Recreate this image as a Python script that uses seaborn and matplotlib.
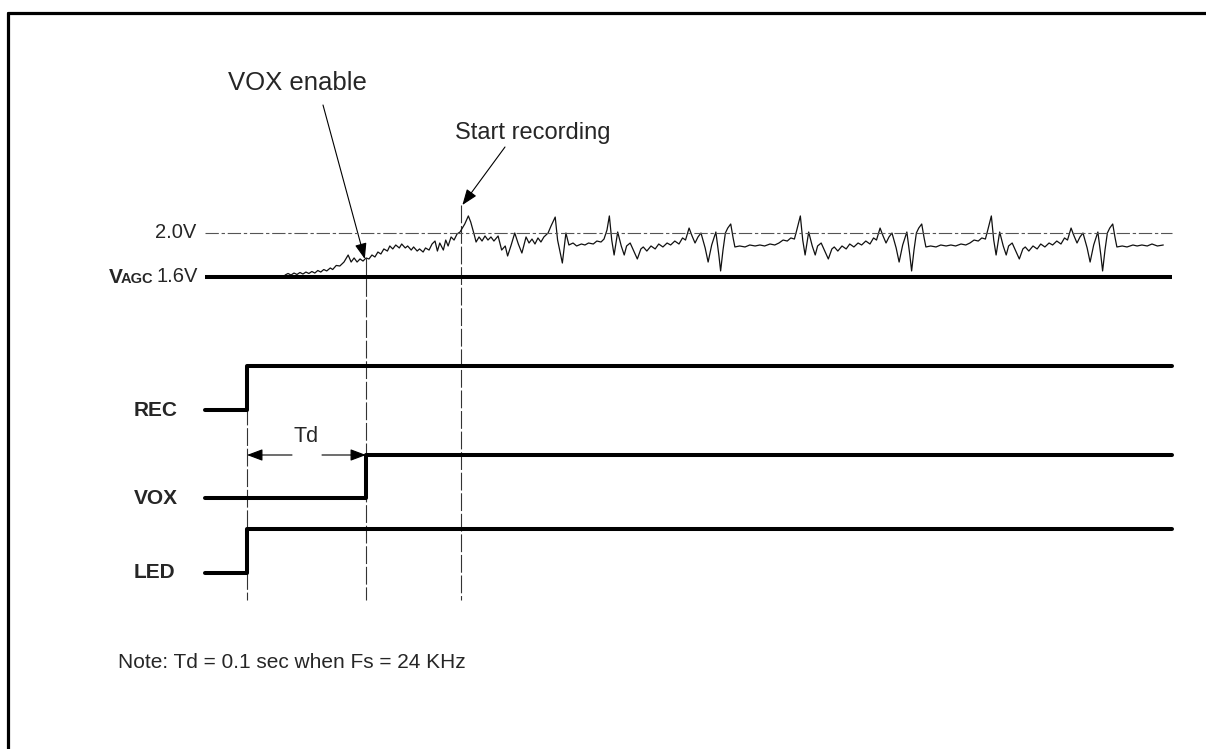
import matplotlib
matplotlib.use("Agg")
import matplotlib.pyplot as plt
from matplotlib.lines import Line2D
import seaborn as sns

# ---- timing data (ms) ----
t_begin, t_end = -35, 777
rec_t, rec_level = [t_begin, 0, t_end], [0, 1, 1]
vox_t, vox_level = [t_begin, 100, t_end], [0, 1, 1]
led_t, led_level = [t_begin, 0, t_end], [0, 1, 1]
td_ms = 100
vox_enable_ms = 100
start_rec_ms = 180

v_agc = 1.6
v_threshold = 2.0

# AGC output before recording (ramp up)
ramp_t = [32, 34.5, 37, 39.5, 42, 44.5, 47, 49.5, 52, 54.5,
          57, 59.5, 62, 64.5, 67, 70, 72, 75, 78, 81.5,
          85, 87.5, 90, 92.5, 95, 97.5, 100, 102.5, 105, 107.5,
          110, 112.5, 115, 118, 120, 122.5, 125, 128, 130, 133,
          135, 138, 140, 143, 145, 148, 150, 153, 155.5, 158,
          160, 162, 165, 167, 169, 171.5, 174, 176.5, 179, 180.5,
          183, 186]
ramp_v = [1.618, 1.632, 1.618, 1.636, 1.623, 1.641, 1.627, 1.645, 1.632, 1.65,
          1.636, 1.659, 1.645, 1.668, 1.655, 1.682, 1.668, 1.705, 1.7, 1.736,
          1.8, 1.736, 1.773, 1.736, 1.764, 1.745, 1.773, 1.764, 1.8, 1.782,
          1.827, 1.809, 1.855, 1.836, 1.882, 1.855, 1.891, 1.864, 1.9, 1.864,
          1.882, 1.845, 1.873, 1.836, 1.855, 1.827, 1.864, 1.845, 1.9, 1.927,
          1.836, 1.909, 1.845, 1.936, 1.882, 1.964, 1.936, 1.991, 2.009, 2.036,
          2.082, 2.155]

# AGC output while recording
rec1_t = [188, 191, 192.5, 195, 197.5, 200, 202.5, 205, 207.5, 211,
          214, 217, 219, 222, 225, 228, 231, 234.5, 237, 239.5,
          242, 244.5, 247, 249.5, 253, 255.5, 259, 261, 265, 268,
          270.5, 274, 277, 281, 284, 287, 291, 294, 297.5, 300,
          302.5, 304.5]
rec1_v = [2.1, 1.982, 1.918, 1.964, 1.927, 1.973, 1.936, 1.964, 1.927, 1.973,
          1.845, 1.882, 1.791, 1.891, 2.0, 1.9, 1.818, 1.964, 1.909, 1.945,
          1.9, 1.955, 1.918, 1.964, 2.0, 2.064, 2.145, 1.936, 1.727, 2.0,
          1.891, 1.909, 1.882, 1.9, 1.891, 1.909, 1.9, 1.927, 1.918, 1.945,
          2.027, 2.155]

rec2_t = [306.5, 308.5, 311.5, 314.5, 317, 319, 322, 325, 328, 331,
          333, 336, 339.5, 343, 346, 349.5, 353, 356, 359.5, 363,
          366, 368.5, 371.5, 374, 376.5, 379, 381.5, 385, 387.5, 390.5,
          394, 396.5, 398, 400, 402, 404, 406.5, 408.5, 410, 414,
          418.5, 422.5, 427, 431, 435, 439.5, 443.5, 447, 450.5, 454,
          457, 460, 462, 465]
rec2_v = [1.936, 1.8, 2.009, 1.882, 1.8, 1.882, 1.909, 1.836, 1.764, 1.855,
          1.873, 1.836, 1.882, 1.855, 1.9, 1.873, 1.909, 1.891, 1.927, 1.9,
          1.955, 1.936, 2.045, 1.973, 1.909, 1.964, 2.0, 1.864, 1.736, 1.891,
          2.009, 1.8, 1.655, 1.845, 2.0, 2.045, 2.082, 1.955, 1.873, 1.882,
          1.873, 1.891, 1.882, 1.891, 1.882, 1.9, 1.891, 1.909, 1.936, 1.927,
          1.955, 1.945, 2.027, 2.155]

rec3_t = [467, 469, 472, 475, 477.5, 479.5, 482.5, 485.5, 488.5, 491.5,
          493.5, 496.5, 500, 503.5, 506.5, 510, 513.5, 516.5, 520, 523.5,
          526.5, 529, 532, 534.5, 537, 539.5, 542, 545.5, 548, 551,
          554.5, 557, 558.5, 560.5, 562.5, 564.5, 567, 569, 570.5, 574.5,
          579, 583, 587.5, 591.5, 595.5, 600, 604, 607.5, 611, 614.5,
          617.5, 620.5, 622.5, 625.5]
rec3_v = [1.936, 1.8, 2.009, 1.882, 1.8, 1.882, 1.909, 1.836, 1.764, 1.855,
          1.873, 1.836, 1.882, 1.855, 1.9, 1.873, 1.909, 1.891, 1.927, 1.9,
          1.955, 1.936, 2.045, 1.973, 1.909, 1.964, 2.0, 1.864, 1.736, 1.891,
          2.009, 1.8, 1.655, 1.845, 2.0, 2.045, 2.082, 1.955, 1.873, 1.882,
          1.873, 1.891, 1.882, 1.891, 1.882, 1.9, 1.891, 1.909, 1.936, 1.927,
          1.955, 1.945, 2.027, 2.155]

rec4_t = [627.5, 629.5, 632.5, 635.5, 638, 640, 643, 646, 649, 652,
          654, 657, 660.5, 664, 667, 670.5, 674, 677, 680.5, 684,
          687, 689.5, 692.5, 695, 697.5, 700, 702.5, 706, 708.5, 711.5,
          715, 717.5, 719, 721, 723, 725, 727.5, 729.5, 731, 735.5,
          739.5, 744.5, 748, 752, 756.5, 760.5, 765, 770]
rec4_v = [1.936, 1.8, 2.009, 1.882, 1.8, 1.882, 1.909, 1.836, 1.764, 1.855,
          1.873, 1.836, 1.882, 1.855, 1.9, 1.873, 1.909, 1.891, 1.927, 1.9,
          1.955, 1.936, 2.045, 1.973, 1.909, 1.964, 2.0, 1.864, 1.736, 1.891,
          2.009, 1.8, 1.655, 1.845, 2.0, 2.045, 2.082, 1.955, 1.873, 1.882,
          1.873, 1.891, 1.882, 1.891, 1.882, 1.9, 1.882, 1.891]

signal_names = ["REC", "VOX", "LED"]
note_text = "Note: Td = 0.1 sec when Fs = 24 KHz"

# ---- figure ----
sns.set_theme(style="white")
plt.rcParams["font.family"] = ["Liberation Sans", "DejaVu Sans"]

W, H = 1206, 749
fig = plt.figure(figsize=(W / 100, H / 100), dpi=100)
XLIM = (-247 / 1.19, (W - 247) / 1.19)   # 1 ms = 1.19 px, REC edge at x=247 px


def fy(py):
    return 1 - py / H


def px(x):
    # pixel column -> ms on the shared time axis
    return (x - 247) / 1.19


# layout axes: x in ms, y in pixels from the top
ax = fig.add_axes([0, 0, 1, 1])
ax.set_xlim(XLIM)
ax.set_ylim(H, 0)
ax.axis("off")

# analog axes: y in volts (1.6 V at 277 px, 110 px per volt)
ax_a = fig.add_axes([0, 0, 1, 1])
ax_a.set_facecolor("none")
agc_t = ramp_t + rec1_t + rec2_t + rec3_t + rec4_t
agc_v = ramp_v + rec1_v + rec2_v + rec3_v + rec4_v
sns.lineplot(x=agc_t, y=agc_v, sort=False, estimator=None, color="#111111",
             lw=0.9, ax=ax_a)
sns.lineplot(x=[t_begin, t_end], y=[v_agc, v_agc], color="black", lw=2.9,
             ax=ax_a, solid_capstyle="butt")
ax_a.plot([t_begin, t_end], [v_threshold, v_threshold], color="#555555", lw=0.8,
          linestyle=(0, (12, 2.5, 3, 2.5)))
ax_a.set_xlim(XLIM)
ax_a.set_ylim(v_agc - (H - 277) / 110, v_agc + 277 / 110)
ax_a.axis("off")

# digital rows: ylim 0..1 maps low..high level
rows = [(rec_t, rec_level, 410, 366), (vox_t, vox_level, 498, 455),
        (led_t, led_level, 573, 529)]
for (tt, lv, p_low, p_high) in rows:
    axr = fig.add_axes([0, fy(p_low), 1, fy(p_high) - fy(p_low)])
    axr.set_facecolor("none")
    sns.lineplot(x=tt, y=lv, sort=False, estimator=None, drawstyle="steps-post",
                 color="black", lw=2.9, ax=axr, clip_on=False)
    axr.set_xlim(XLIM)
    axr.set_ylim(0, 1)
    axr.axis("off")

# dashed guide lines
guide_kw = dict(color="#333333", lw=0.8, linestyle=(0, (16, 2.5)))
ax.plot([0, 0], [366, 600], **guide_kw)
ax.plot([vox_enable_ms, vox_enable_ms], [258, 600], **guide_kw)
ax.plot([start_rec_ms, start_rec_ms], [205, 600], **guide_kw)

# labels
ax.text(px(196), 233, "2.0V", ha="right", va="center", fontsize=14.5)
ax.text(px(198), 277, "1.6V", ha="right", va="center", fontsize=14.5)
ax.text(px(109), 283, "V", ha="left", va="baseline", fontsize=15, fontweight="bold")
ax.text(px(121), 283, "AGC", ha="left", va="baseline", fontsize=10.5, fontweight="bold")
for name, (_, _, p_low, _) in zip(signal_names, rows):
    ax.text(px(134), p_low, name, ha="left", va="center", fontsize=15, fontweight="bold")

ax.text(px(297), 83, "VOX enable", ha="center", va="center", fontsize=18.5)
ax.text(px(533), 133, "Start recording", ha="center", va="center", fontsize=17)
arr_kw = dict(arrowstyle="-|>,head_length=0.8,head_width=0.3", color="black", lw=0.8,
              shrinkA=0, shrinkB=0)
ax.annotate("", xy=(vox_enable_ms - 1, 259), xytext=(px(323), 105), arrowprops=arr_kw)
ax.annotate("", xy=(start_rec_ms + 1, 205), xytext=(px(505), 147), arrowprops=arr_kw)

# Td dimension
ax.annotate("", xy=(0, 455), xytext=(px(292), 455), arrowprops=arr_kw)
ax.annotate("", xy=(td_ms, 455), xytext=(px(322), 455), arrowprops=arr_kw)
ax.text(px(306), 437, "Td", ha="center", va="center", fontsize=15.5)

ax.text(px(118), 662, note_text, ha="left", va="center", fontsize=15)

# frame (top and left edges only visible)
fig.add_artist(Line2D([8 / W, 1], [fy(13), fy(13)], color="black", lw=2.3))
fig.add_artist(Line2D([8 / W, 8 / W], [fy(13), 0], color="black", lw=2.3))

fig.savefig("out.png", dpi=100, facecolor="white")
